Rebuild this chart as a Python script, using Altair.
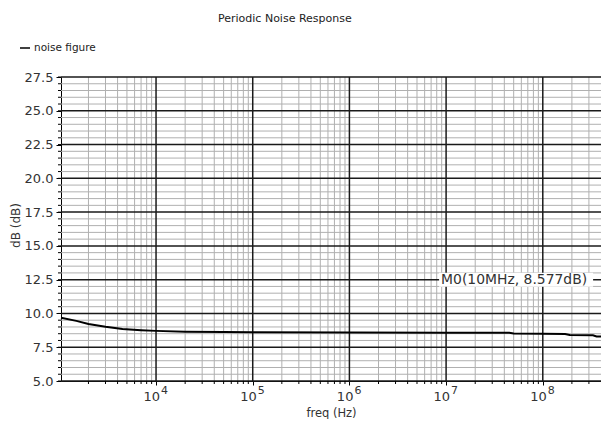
import altair as alt
import pandas as pd

title_text = "Periodic Noise Response"
series_name = "noise figure"
x_title = "freq (Hz)"
y_title = "dB (dB)"

freq = [1.04e3, 1.5e3, 2e3, 3e3, 4.5e3, 7e3, 1e4, 2e4, 5e4, 1e5, 1e6, 1e7,
        3e7, 4.5e7, 5e7, 1e8, 1.7e8, 1.9e8, 3.3e8, 3.6e8, 4e8]
nf = [9.68, 9.45, 9.22, 9.02, 8.85, 8.76, 8.71, 8.65, 8.62, 8.60, 8.585, 8.577,
      8.575, 8.565, 8.52, 8.50, 8.47, 8.40, 8.38, 8.30, 8.29]

x_major = [1e4, 1e5, 1e6, 1e7, 1e8]
x_base = ["10", "10", "10", "10", "10"]
x_exponents = ["4", "5", "6", "7", "8"]
x_minor = [m * 10 ** k for k in range(3, 9) for m in range(2, 10) if m * 10 ** k < 4e8]
y_major = [5.0, 7.5, 10.0, 12.5, 15.0, 17.5, 20.0, 22.5, 25.0, 27.5]
y_minor = [v / 2 for v in range(11, 55) if (v / 2) % 2.5 != 0]
y_all = [v / 2 for v in range(10, 56)]

marker_x = [1e7]
marker_y = [12.5]
marker_text = ["M0(10MHz, 8.577dB)"]

FONT = "DejaVu Sans"
W, H = 540, 304

xscale = alt.Scale(type="log", domain=[1.04e3, 4e8], nice=False)
yscale = alt.Scale(domain=[5, 27.5], nice=False)

xaxis = alt.Axis(
    values=x_major, labels=False,
    title=x_title, grid=False, tickSize=4, tickColor="black", domainColor="black",
    titleFont=FONT, titleFontSize=11.5, titleFontWeight="normal", titleColor="#333",
    titleY=26, titleBaseline="top",
)
yaxis = alt.Axis(
    values=y_major, format=".1f", title=y_title, grid=False, tickSize=5,
    tickColor="black", domainColor="black",
    labelFont=FONT, labelFontSize=13, labelColor="#333", labelPadding=3,
    titleFont=FONT, titleFontSize=12, titleFontWeight="normal", titleColor="#333",
    titleX=-39, titleY=H / 2 - 4,
)

df_line = pd.DataFrame({"f": freq, "v": nf, "s": [series_name] * len(freq)})
df_xmin = pd.DataFrame({"f": x_minor})
df_xmaj = pd.DataFrame({"f": x_major, "b": x_base, "e": x_exponents})
df_ymin = pd.DataFrame({"v": y_minor})
df_ymaj = pd.DataFrame({"v": y_major})
df_yall = pd.DataFrame({"v": y_all})
df_mk = pd.DataFrame({"f": marker_x, "v": marker_y, "t": marker_text})

xmin_rules = alt.Chart(df_xmin).mark_rule(color="#b0b0b0", strokeWidth=1).encode(
    x=alt.X("f:Q", scale=xscale, axis=xaxis))
ymin_rules = alt.Chart(df_ymin).mark_rule(color="#b0b0b0", strokeWidth=1).encode(
    y=alt.Y("v:Q", scale=yscale, axis=yaxis))
xmaj_rules = alt.Chart(df_xmaj).mark_rule(color="#1a1a1a", strokeWidth=1.5).encode(
    x=alt.X("f:Q", scale=xscale, axis=xaxis))
ymaj_rules = alt.Chart(df_ymaj).mark_rule(color="#1a1a1a", strokeWidth=1.5).encode(
    y=alt.Y("v:Q", scale=yscale, axis=yaxis))

xminor_ticks = alt.Chart(df_xmin).mark_rule(color="black", strokeWidth=1).encode(
    x=alt.X("f:Q", scale=xscale, axis=xaxis), y=alt.value(H), y2=alt.value(H + 3))
yminor_ticks = alt.Chart(df_yall).mark_rule(color="black", strokeWidth=1).encode(
    y=alt.Y("v:Q", scale=yscale, axis=yaxis), x=alt.value(-3), x2=alt.value(0))

bases = alt.Chart(df_xmaj).mark_text(align="right", baseline="middle", dx=4,
                                     font=FONT, fontSize=13, color="#333").encode(
    x=alt.X("f:Q", scale=xscale, axis=xaxis), y=alt.value(H + 16), text="b:N")
exps = alt.Chart(df_xmaj).mark_text(align="left", baseline="middle", dx=5,
                                    font=FONT, fontSize=11, color="#333").encode(
    x=alt.X("f:Q", scale=xscale, axis=xaxis), y=alt.value(H + 10), text="e:N")

line = alt.Chart(df_line).mark_line(strokeWidth=2).encode(
    x=alt.X("f:Q", scale=xscale, axis=xaxis),
    y=alt.Y("v:Q", scale=yscale, axis=yaxis),
    color=alt.Color("s:N", scale=alt.Scale(domain=[series_name], range=["black"]),
                    legend=alt.Legend(orient="none", legendX=-42, legendY=-35, title=None,
                                      symbolType="stroke", symbolSize=100,
                                      symbolStrokeWidth=1.5, labelFont=FONT,
                                      labelFontSize=10.5, labelColor="#222",
                                      labelOffset=3)),
)

mk_box = alt.Chart(df_mk).mark_rect(color="white", width=154, height=14, xOffset=70).encode(
    x=alt.X("f:Q", scale=xscale, axis=xaxis), y=alt.Y("v:Q", scale=yscale, axis=yaxis))
mk_text = alt.Chart(df_mk).mark_text(align="left", baseline="middle", dx=-5, dy=0,
                                     font=FONT, fontSize=13.9, color="#333").encode(
    x=alt.X("f:Q", scale=xscale, axis=xaxis), y=alt.Y("v:Q", scale=yscale, axis=yaxis),
    text="t:N")

chart = alt.layer(
    xmin_rules, ymin_rules, xmaj_rules, ymaj_rules, line, mk_box, mk_text,
    xminor_ticks, yminor_ticks, bases, exps,
).properties(
    width=W, height=H,
    title=alt.TitleParams(title_text, anchor="start", dx=157, offset=18, frame="group",
                          font=FONT, fontSize=11, fontWeight="normal", color="#222"),
    padding={"left": 53, "top": 69, "right": 0, "bottom": 38},
    autosize=alt.AutoSizeParams(type="none"),
    background="white",
).configure_view(stroke=None)

chart.save("out.html", embed_options={"renderer": "svg", "actions": False})
